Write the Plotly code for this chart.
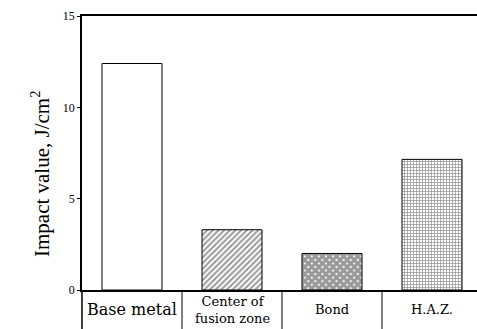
import plotly.graph_objects as go

# Charpy impact values for each region of the weld
categories = ["Base metal", "Center of<br>fusion zone", "Bond", "H.A.Z."]
impact = [12.4, 3.3, 2.0, 7.15]
y_ticks = [0, 5, 10, 15]

label_sizes = [16, 13, 13, 13]
patterns = ["", "/", "x", "+"]
pattern_sizes = [4, 4, 5, 3]
pattern_solidity = [0.3, 0.5, 0.85, 0.45]

SERIF = "Liberation Serif, Times New Roman, serif"
W, H = 477, 329
ML, MT, MB = 82, 16, 39
PH = H - MT - MB

x_pos = list(range(len(categories)))

fig = go.Figure()
fig.add_trace(go.Bar(
    x=x_pos,
    y=impact,
    width=0.6,
    marker=dict(
        color="white",
        line=dict(color="black", width=1),
        pattern=dict(shape=patterns, size=pattern_sizes, solidity=pattern_solidity,
                     fgcolor="#333333", bgcolor="white", fillmode="overlay"),
    ),
    showlegend=False,
))

# column dividers below the baseline and extended left axis
bottom = -MB / PH
for xv in [0.5, 1.5, 2.5]:
    fig.add_shape(type="line", xref="x", yref="paper", x0=xv, x1=xv, y0=0, y1=bottom,
                  line=dict(color="black", width=1))
fig.add_shape(type="line", xref="paper", yref="paper", x0=0, x1=0, y0=0, y1=bottom,
              line=dict(color="black", width=1.5))

# category labels
for xv, name, fs in zip(x_pos, categories, label_sizes):
    fig.add_annotation(x=xv, y=(-19.5) / PH, xref="x", yref="paper", text=name,
                       showarrow=False, xanchor="center", yanchor="middle",
                       font=dict(family="DejaVu Serif", size=fs, color="black"))

fig.add_annotation(x=-42 / (W - ML), y=(290 - 174) / PH, xref="paper", yref="paper",
                   text="Impact value, J/cm<sup>2</sup>", textangle=-90, showarrow=False,
                   xanchor="center", yanchor="middle",
                   font=dict(family=SERIF, size=21, color="black"))

fig.update_layout(
    width=W, height=H,
    margin=dict(l=ML, r=0, t=MT, b=MB, pad=0),
    paper_bgcolor="white", plot_bgcolor="white",
    xaxis=dict(range=[-0.5, -0.5 + (W - ML) / 100], showticklabels=False, ticks="",
               showgrid=False, zeroline=False, showline=True, mirror=True,
               linecolor="black", linewidth=1.5),
    yaxis=dict(range=[0, 15], tickvals=y_ticks, ticks="outside", ticklen=3,
               tickcolor="black", tickwidth=1, showgrid=False, zeroline=False,
               showline=True, linecolor="black", linewidth=1.5,
               tickfont=dict(family=SERIF, size=12, color="black")),
)

fig.write_html("out.html")
